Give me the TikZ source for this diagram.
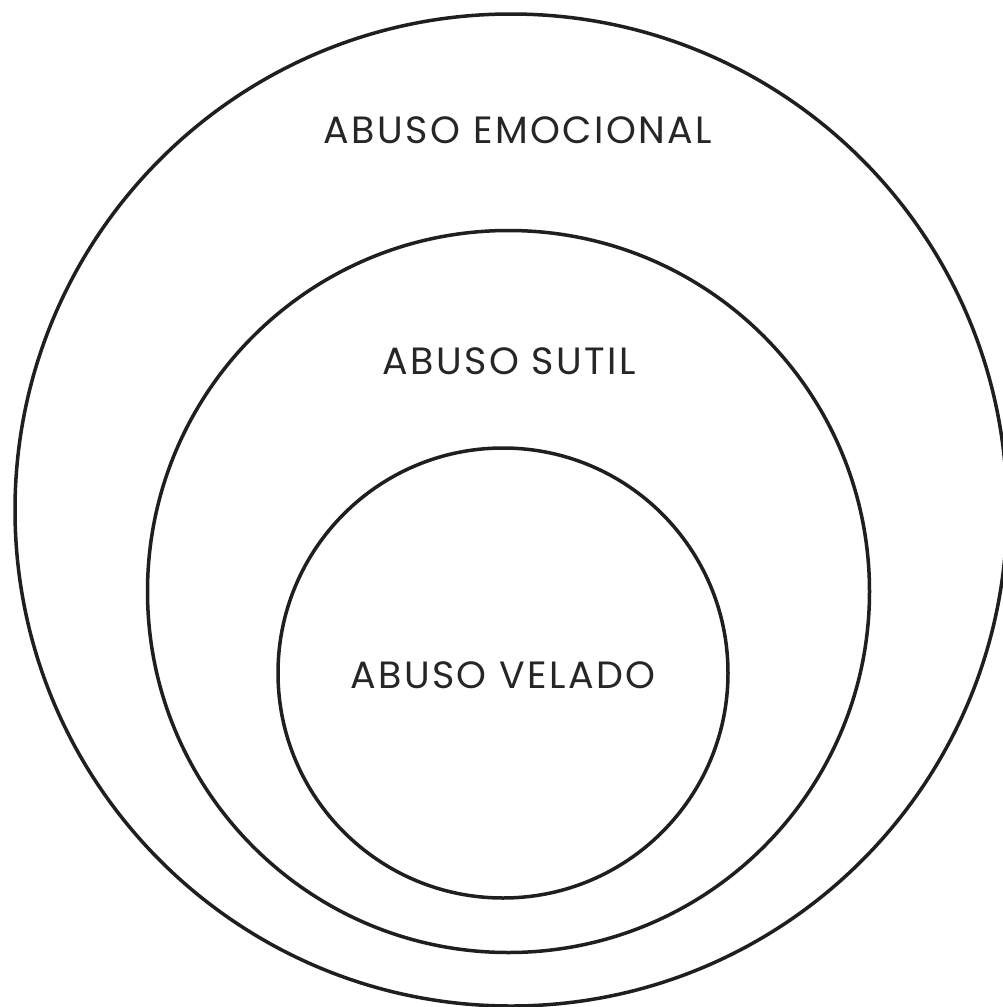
\documentclass[tikz,border=0pt]{standalone}
\usepackage{fontspec}
\setmainfont{Poppins}[LetterSpace=6.5]
\begin{document}
\begin{tikzpicture}[x=1pt,y=-1pt,
  ring/.style={draw=black!88,line width=3.5pt},
  label/.style={font=\fontsize{38}{40}\selectfont,text=black!85,inner sep=0pt,anchor=center}]
\useasboundingbox[fill=white] (0,0) rectangle (1002,1007);
\draw[ring] (511,510) circle[radius=496];
\draw[ring] (508.5,591.5) circle[radius=361];
\draw[ring] (503,673) circle[radius=225];
\node[label] (emo) at (518,130) {ABUSO EMOCIONAL};
\node[label] (sutil) at (509,361) {ABUSO SUTIL};
\node[label] (velado) at (503,675) {ABUSO VELADO};
\end{tikzpicture}
\end{document}
